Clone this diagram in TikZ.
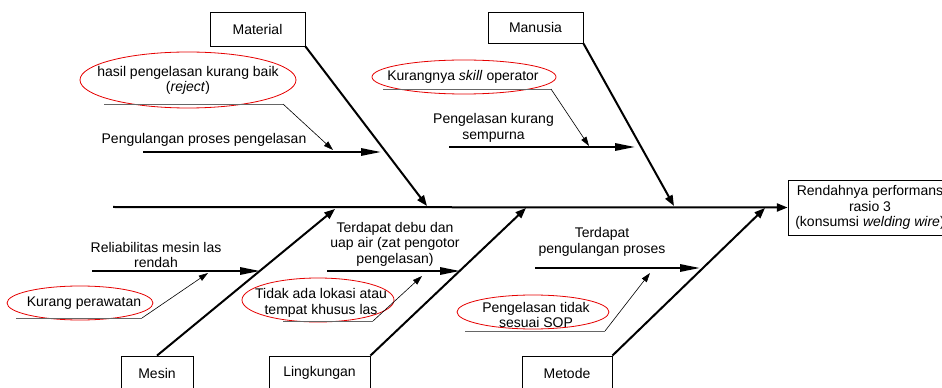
\documentclass[tikz,border=0pt]{standalone}
\usepackage{fontspec}
\setmainfont{Liberation Sans}
\colorlet{CauseEllipse}{red!90!black}
\colorlet{NoteLine}{black!60}
\usetikzlibrary{arrows.meta}

\begin{document}
\begin{tikzpicture}[x = 0.75pt, y = -0.75pt,
    font = \fontsize{10.5}{11.6}\selectfont,
    box/.style = {draw, line width = 0.6pt, inner sep = 2pt, minimum height = 25.5pt},
    cause/.style = {draw = CauseEllipse, line width = 0.6pt},
    label/.style = {align = center, inner sep = 0pt},
    bone/.style = {line width = 1.5pt, -{Triangle[length = 8pt, width = 6pt]}},
    subcause/.style = {line width = 1.5pt, -{Triangle[length = 15pt, width = 5.5pt]}},
    noteline/.style = {draw = NoteLine, line width = 0.6pt},
    notearrow/.style = {line width = 0.45pt, -{Triangle[length = 7pt, width = 4.5pt]}}]

\useasboundingbox (0, 0) rectangle (942, 388);
\clip (0, 0) rectangle (942, 388);

\node[box, minimum width = 71.25pt] (material) at (257.5, 29) {Material};
\node[box, minimum width = 71.25pt, minimum height = 23.25pt] (manusia) at (535.5, 27.5) {Manusia};
\node[box, minimum width = 54pt] (mesin) at (157, 373) {Mesin};
\node[box, minimum width = 75.75pt] (lingkungan) at (319.5, 373) {Lingkungan};
\node[box, minimum width = 67.5pt] (metode) at (567, 373) {Metode};
\node[box, minimum width = 123pt, minimum height = 41.25pt, align = center] (result) at (870, 207.5)
    {Rendahnya performans\\rasio 3\\(konsumsi \textit{welding wire})};

\coordinate (tail) at (113, 207);
\draw[bone] (tail) -- (result.west);

\coordinate (materialTip) at (427, 206);
\coordinate (manusiaTip) at (674, 206);
\coordinate (mesinTip) at (335, 209);
\coordinate (lingkunganTip) at (526, 208);
\coordinate (metodeTip) at (765, 208);
\draw[bone] (material.south east) -- (materialTip);
\draw[bone] (manusia.south east) -- (manusiaTip);
\draw[bone] (mesin.north) -- (mesinTip);
\draw[bone] (lingkungan.north east) -- (lingkunganTip);
\draw[bone] (metode.north east) -- (metodeTip);

% material
\coordinate (ulangA) at (143, 152);
\coordinate (ulangB) at (381, 152);
\draw[subcause] (ulangA) -- (ulangB);
\node[label] (ulang) at (204, 140) {Pengulangan proses pengelasan};
\draw[cause] (188, 80) ellipse [x radius = 108, y radius = 28];
\node[label] (reject) at (188, 80.5) {hasil pengelasan kurang baik\\(\textit{reject})};
\coordinate (rejectA) at (104, 104);
\coordinate (rejectB) at (283, 104);
\coordinate (rejectTip) at (333, 150);
\draw[noteline] (rejectA) -- (rejectB);
\draw[notearrow] (rejectB) -- (rejectTip);

% manusia
\coordinate (sempurnaA) at (449, 147);
\coordinate (sempurnaB) at (635, 147);
\draw[subcause] (sempurnaA) -- (sempurnaB);
\node[label] (sempurna) at (493.5, 128) {Pengelasan kurang\\sempurna};
\draw[cause] (464, 77) ellipse [x radius = 92, y radius = 17];
\node[label] (skill) at (463, 77) {Kurangnya \textit{skill} operator};
\coordinate (skillA) at (383, 89);
\coordinate (skillB) at (551, 89);
\coordinate (skillTip) at (589, 146);
\draw[noteline] (skillA) -- (skillB);
\draw[notearrow] (skillB) -- (skillTip);

% mesin
\coordinate (reliabA) at (92, 271);
\coordinate (reliabB) at (260, 271);
\draw[subcause] (reliabA) -- (reliabB);
\node[label] (reliab) at (156, 255) {Reliabilitas mesin las\\rendah};
\draw[cause] (80, 303) ellipse [x radius = 73, y radius = 17];
\node[label] (rawat) at (84, 303) {Kurang perawatan};
\coordinate (rawatA) at (16, 318);
\coordinate (rawatB) at (142, 318);
\coordinate (rawatTip) at (208, 273);
\draw[noteline] (rawatA) -- (rawatB);
\draw[notearrow] (rawatB) -- (rawatTip);

% lingkungan
\coordinate (debuA) at (327, 271);
\coordinate (debuB) at (460, 271);
\draw[subcause] (debuA) -- (debuB);
\node[label] (debu) at (395, 244) {Terdapat debu dan\\uap air (zat pengotor\\pengelasan)};
\draw[cause] (318, 300) ellipse [x radius = 76, y radius = 22];
\node[label] (lokasi) at (321, 303) {Tidak ada lokasi atau\\tempat khusus las};
\coordinate (lokasiA) at (283, 321);
\coordinate (lokasiB) at (373, 321);
\coordinate (lokasiTip) at (422, 276);
\draw[noteline] (lokasiA) -- (lokasiB);
\draw[notearrow] (lokasiB) -- (lokasiTip);

% metode
\coordinate (prosesA) at (535, 268);
\coordinate (prosesB) at (700, 268);
\draw[subcause] (prosesA) -- (prosesB);
\node[label] (proses) at (602, 242) {Terdapat\\pengulangan proses};
\draw[cause] (533, 312) ellipse [x radius = 76, y radius = 17];
\node[label] (sop) at (536, 315) {Pengelasan tidak\\sesuai SOP};
\coordinate (sopA) at (465, 331);
\coordinate (sopB) at (605, 331);
\coordinate (sopTip) at (650, 273);
\draw[noteline] (sopA) -- (sopB);
\draw[notearrow] (sopB) -- (sopTip);

\end{tikzpicture}
\end{document}
